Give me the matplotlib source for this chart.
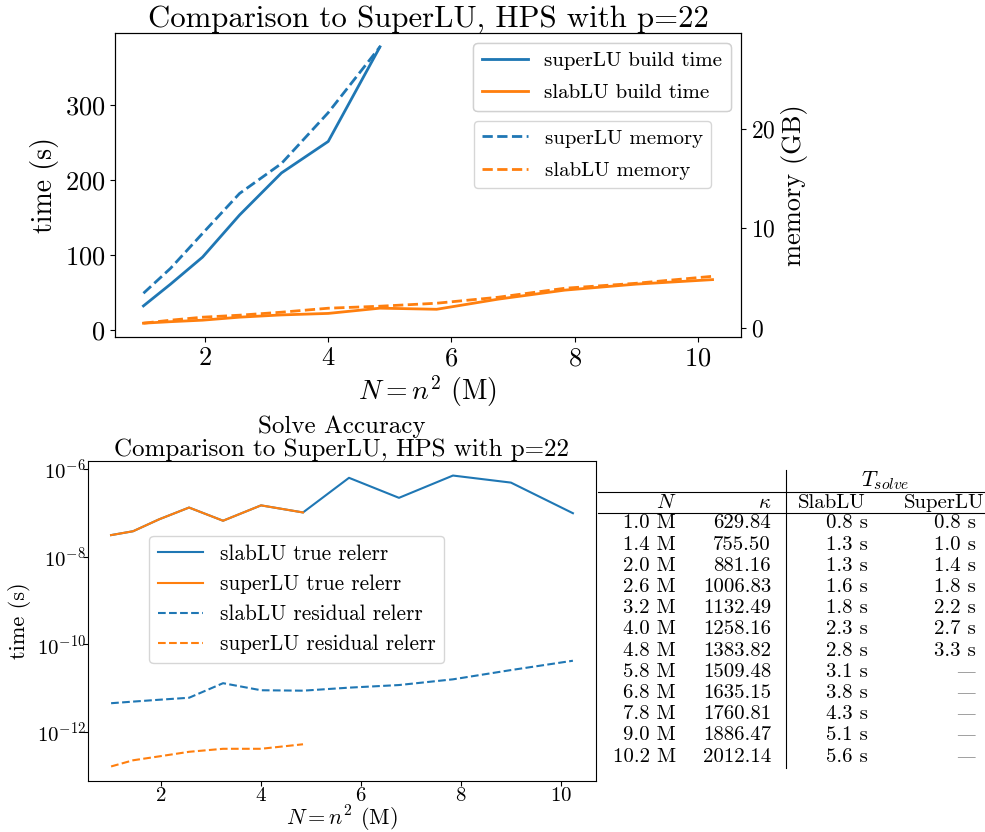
import matplotlib
matplotlib.use("Agg")
import matplotlib.pyplot as plt

plt.rcParams["font.family"] = ["cmr10", "DejaVu Serif"]
plt.rcParams["mathtext.fontset"] = "cm"
plt.rcParams["axes.unicode_minus"] = False
plt.rcParams["axes.formatter.use_mathtext"] = True

# problem sizes N = n^2, in millions
N_M = [1.0, 1.44, 1.96, 2.56, 3.24, 4.0, 4.84, 5.76, 6.76, 7.84, 9.0, 10.24]

# build time (s) and memory (GB); superLU only ran up to 4.8M
superlu_build = [32, 61, 97, 153, 209, 251, 377]
slablu_build = [9, 11, 13, 17, 20, 22, 29, 27.5, 41, 53, 61, 67]
superlu_mem = [3.5, 6.0, 9.5, 13.5, 16.5, 21.6, 28.2]
slablu_mem = [0.5, 0.8, 1.1, 1.3, 1.6, 2.0, 2.2, 2.5, 3.1, 4.0, 4.5, 5.2]

# solve accuracy
slablu_true = [3.1e-8, 3.8e-8, 7.1e-8, 1.32e-7, 6.6e-8, 1.48e-7, 1.02e-7,
               6.3e-7, 2.2e-7, 7.1e-7, 4.9e-7, 9.8e-8]
superlu_true = [3.1e-8, 3.8e-8, 7.1e-8, 1.32e-7, 6.6e-8, 1.48e-7, 1.02e-7]
slablu_resid = [4.5e-12, 4.9e-12, 5.4e-12, 6.0e-12, 1.29e-11, 8.9e-12, 8.7e-12,
                1.02e-11, 1.17e-11, 1.58e-11, 2.57e-11, 4.2e-11]
superlu_resid = [1.62e-13, 2.24e-13, 2.75e-13, 3.5e-13, 4.1e-13, 4.1e-13, 5.2e-13]

# table
kappa = ["629.84", "755.50", "881.16", "1006.83", "1132.49", "1258.16",
         "1383.82", "1509.48", "1635.15", "1760.81", "1886.47", "2012.14"]
slab_solve = [0.8, 1.3, 1.3, 1.6, 1.8, 2.3, 2.8, 3.1, 3.8, 4.3, 5.1, 5.6]
super_solve = [0.8, 1.0, 1.4, 1.8, 2.2, 2.7, 3.3, None, None, None, None, None]

W, H = 985, 832
fig = plt.figure(figsize=(W / 100, H / 100), dpi=100)


def box(l, t, r, b):
    return [l / W, 1 - b / H, (r - l) / W, (b - t) / H]


# ---- top: build time and memory
ax = fig.add_axes(box(115, 33, 741, 337))
ax2 = ax.twinx()
n_sup = len(superlu_build)
l1, = ax.plot(N_M[:n_sup], superlu_build, color="C0", lw=2, label="superLU build time")
l2, = ax.plot(N_M, slablu_build, color="C1", lw=2, label="slabLU build time")
l3, = ax2.plot(N_M[:n_sup], superlu_mem, "--", color="C0", lw=2, label="superLU memory")
l4, = ax2.plot(N_M, slablu_mem, "--", color="C1", lw=2, label="slabLU memory")
ax.set_title("Comparison to SuperLU, HPS with p=22", fontsize=22.2, pad=4)
ax.set_xlabel(r"$N = n^2$ (M)", fontsize=20, labelpad=2)
ax.set_ylabel("time (s)", fontsize=20)
ax2.set_ylabel("memory (GB)", fontsize=19)
ax.set_xticks([2, 4, 6, 8, 10])
ax.set_yticks([0, 100, 200, 300])
ax2.set_yticks([0, 10, 20])
ax.tick_params(labelsize=19)
ax2.tick_params(labelsize=17)
leg1 = ax.legend(handles=[l1, l2], loc="upper right", fontsize=15,
                 labelspacing=0.65, handlelength=2.2)
ax.add_artist(leg1)
ax2.legend(handles=[l3, l4], loc="upper left", bbox_to_anchor=(0.5735, 0.711),
           borderaxespad=0, fontsize=15, labelspacing=0.65, handlelength=2.2)

# ---- bottom: solve accuracy
bx = fig.add_axes(box(88, 461, 596, 781))
bx.plot(N_M, slablu_true, color="C0", label="slabLU true relerr")
bx.plot(N_M[:n_sup], superlu_true, color="C1", label="superLU true relerr")
bx.plot(N_M, slablu_resid, "--", color="C0", label="slabLU residual relerr")
bx.plot(N_M[:n_sup], superlu_resid, "--", color="C1", label="superLU residual relerr")
bx.set_yscale("log")
bx.set_yticks([1e-6, 1e-8, 1e-10, 1e-12])
bx.minorticks_off()
bx.set_xticks([2, 4, 6, 8, 10])
bx.tick_params(labelsize=15)
bx.tick_params(axis="x", pad=1)
bx.tick_params(axis="y", pad=-2)
bx.set_title("Solve Accuracy\nComparison to SuperLU, HPS with p=22", fontsize=18, pad=3,
             linespacing=1.05)
bx.set_xlabel(r"$N = n^2$ (M)", fontsize=16, labelpad=-1)
bx.set_ylabel("time (s)", fontsize=16)
bx.legend(loc="upper left", bbox_to_anchor=(0.121, 0.766), borderaxespad=0, fontsize=15.3,
          labelspacing=0.5, handlelength=2.1)

# ---- table of condition numbers and solve times
tx = fig.add_axes([0, 0, 1, 1], zorder=-1)
tx.set_xlim(0, W)
tx.set_ylim(H, 0)
tx.axis("off")
fs = 15
tx.text(885, 481, r"$T_{solve}$", ha="center", va="center", fontsize=16)
tx.text(676, 503, r"$N$", ha="right", va="center", fontsize=fs)
tx.text(771, 503, r"$\kappa$", ha="right", va="center", fontsize=fs)
tx.text(832, 503, "SlabLU", ha="center", va="center", fontsize=fs)
tx.text(944, 503, "SuperLU", ha="center", va="center", fontsize=fs)
tx.plot([598, 985], [491.5, 491.5], color="black", lw=0.8)
tx.plot([598, 985], [513, 513], color="black", lw=0.8)
tx.plot([786, 786], [470, 768], color="black", lw=0.8)
row_h = 21.2
for i, n in enumerate(N_M):
    y = 523.5 + i * row_h
    tx.text(676, y, f"{n:.1f} M", ha="right", va="center", fontsize=fs)
    tx.text(771, y, kappa[i], ha="right", va="center", fontsize=fs)
    tx.text(868, y, f"{slab_solve[i]:.1f} s", ha="right", va="center", fontsize=fs)
    if super_solve[i] is None:
        tx.text(976, y, "\u2014", ha="right", va="center", fontsize=14,
                color="#999999", family="DejaVu Serif")
    else:
        tx.text(976, y, f"{super_solve[i]:.1f} s", ha="right", va="center", fontsize=fs)

fig.savefig("out.png", dpi=100)
